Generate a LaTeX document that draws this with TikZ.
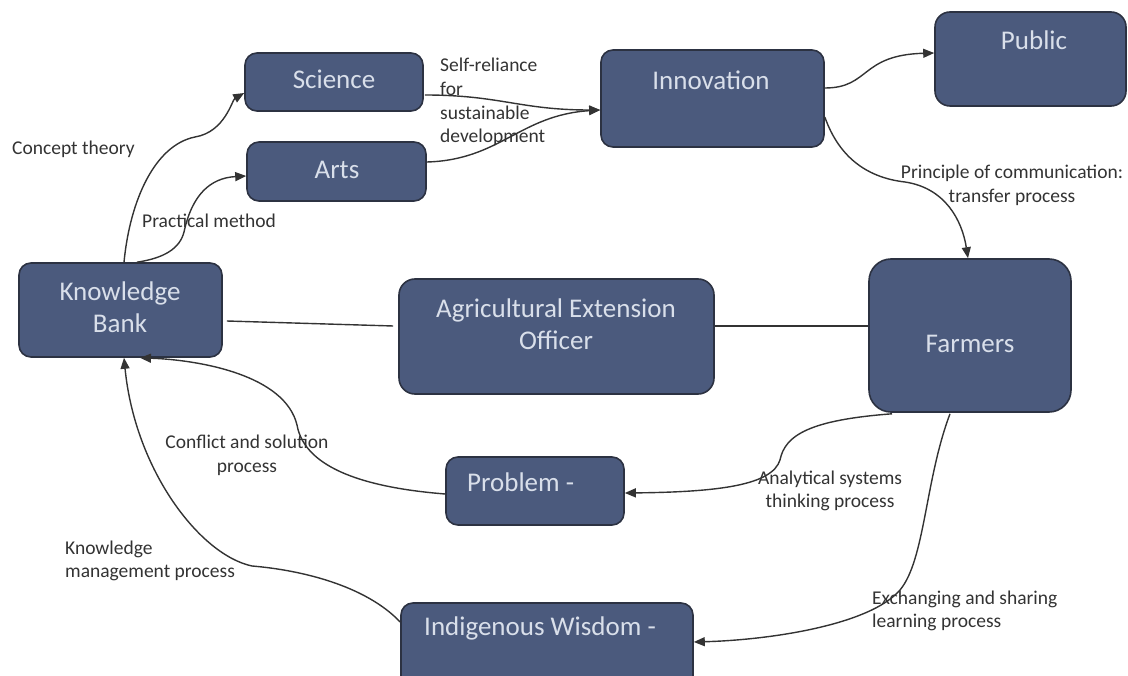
\documentclass[tikz,border=0pt]{standalone}
\usepackage{fontspec}
\setmainfont{Carlito}
\usetikzlibrary{arrows.meta,calc}
\definecolor{boxfill}{HTML}{4B5A7D}
\definecolor{boxline}{HTML}{2C3242}
\definecolor{boxtxt}{HTML}{D9DFEA}
\definecolor{ink}{HTML}{333333}
\begin{document}
\begin{tikzpicture}[x=1pt,y=-1pt,
 box/.style={draw=boxline, fill=boxfill, line width=1.6pt, rounded corners=12pt, inner sep=0pt},
 btxt/.style={text=boxtxt, font=\fontsize{27}{31.5}\selectfont, inner sep=0pt, align=center},
 lbl/.style={text=ink, font=\fontsize{19.5}{23.7}\selectfont, inner sep=0pt},
 conn/.style={draw=ink, line width=1.4pt},
 arr/.style={conn, -{Triangle[length=11pt,width=9pt]}}]
\useasboundingbox (0,0) rectangle (1128,676);
% boxes
\node[box, minimum width=178pt, minimum height=58pt] (sci) at (334,82) {};
\node[box, minimum width=179pt, minimum height=59pt] (arts) at (336.5,171.5) {};
\node[box, minimum width=223pt, minimum height=97pt] (inn) at (712.5,98.5) {};
\node[box, minimum width=191pt, minimum height=94pt, rounded corners=15pt] (pub) at (1030.5,59) {};
\node[box, minimum width=203pt, minimum height=94pt] (kb) at (120.5,310) {};
\node[box, minimum width=315pt, minimum height=115pt, rounded corners=16pt] (aeo) at (556.5,336.5) {};
\node[box, minimum width=202pt, minimum height=153pt, rounded corners=22pt] (far) at (970,335.5) {};
\node[box, minimum width=178pt, minimum height=68pt] (prob) at (535,491) {};
\node[box, minimum width=292pt, minimum height=86pt] (iw) at (547,646) {};
% box texts
\node[btxt] (tsci) at (334,79) {Science};
\node[btxt] (tarts) at (337,170) {Arts};
\node[btxt] (tinn) at (711,80) {Innovation};
\node[btxt] (tpub) at (1034,40) {Public};
\node[btxt] (tkb) at (120,307) {Knowledge\\Bank};
\node[btxt] (taeo) at (556,324) {Agricultural Extension\\Officer};
\node[btxt] (tfar) at (970,344) {Farmers};
\node[btxt, anchor=west] (tprob) at (467,482) {Problem -};
\node[btxt, anchor=west] (tiw) at (424,628) {Indigenous Wisdom -};
% labels
\node[lbl, anchor=west] (lconcept) at (12,149) {Concept theory};
\node[lbl, anchor=west] (lpract) at (142,221) {Practical method};
\node[lbl, anchor=west, align=left] (lself) at (440,102) {Self-reliance\\for\\sustainable\\development};
\node[lbl, align=center] (lprin) at (1012,185) {Principle of communication:\\transfer process};
\node[lbl, align=center] (lconf) at (247,455) {Conflict and solution\\process};
\node[lbl, align=center] (lanal) at (830,491) {Analytical systems\\thinking process};
\node[lbl, anchor=west, align=left] (lkm) at (65,561) {Knowledge\\management process};
\node[lbl, anchor=west, align=left] (lex) at (872,611) {Exchanging and sharing\\learning process};
% connectors
\draw[arr] ($(kb.north)+(3.5,0)$) .. controls (130,200) and (155,145) .. (195,137)
  .. controls (225,132) and (232,100) .. ($(sci.west)+(0,11)$);
\draw[arr] ($(kb.north)+(16.5,0)$) .. controls (165,258) and (180,248) .. (184,232)
  .. controls (192,195) and (210,178) .. ($(arts.west)+(0,4.5)$);
\draw[arr] ($(sci.east)+(1,13)$) .. controls (500,95) and (520,110) .. ($(inn.west)+(0,11.5)$);
\draw[arr] ($(arts.east)+(0,-9.5)$) .. controls (500,160) and (520,115) .. ($(inn.west)+(0,11.5)$);
\draw[arr] ($(inn.east)+(0,-10.5)$) .. controls (870,88) and (860,55) .. ($(pub.west)+(0,-6)$);
\draw[arr] ($(inn.east)+(0,18.5)$) .. controls (840,160) and (870,178) .. (905,182)
  .. controls (945,188) and (962,220) .. ($(far.north)+(-2,0)$);
\draw[conn] ($(kb.east)+(4,11)$) -- ($(aeo.west)+(-5,-10.5)$);
\draw[conn] ($(aeo.east)+(0,-10.5)$) -- ($(far.west)+(0,-9.5)$);
\draw[arr] ($(far.south)+(-78,1)$) .. controls (810,420) and (785,435) .. (780,460)
  .. controls (772,485) and (720,492) .. ($(prob.east)+(0,2)$);
\draw[arr] ($(prob.west)+(0,3)$) .. controls (370,488) and (305,470) .. (297,425)
  .. controls (285,375) and (200,360) .. ($(kb.south)+(19.5,0)$);
\draw[arr] ($(iw.west)+(0,-24)$) .. controls (365,585) and (300,570) .. (252,566)
  .. controls (200,555) and (135,470) .. ($(kb.south)+(3.5,0)$);
\draw[arr] ($(far.south)+(-20,1)$) .. controls (925,480) and (925,560) .. (900,590)
  .. controls (870,625) and (770,640) .. ($(iw.east)+(0,-4)$);
\end{tikzpicture}
\end{document}
